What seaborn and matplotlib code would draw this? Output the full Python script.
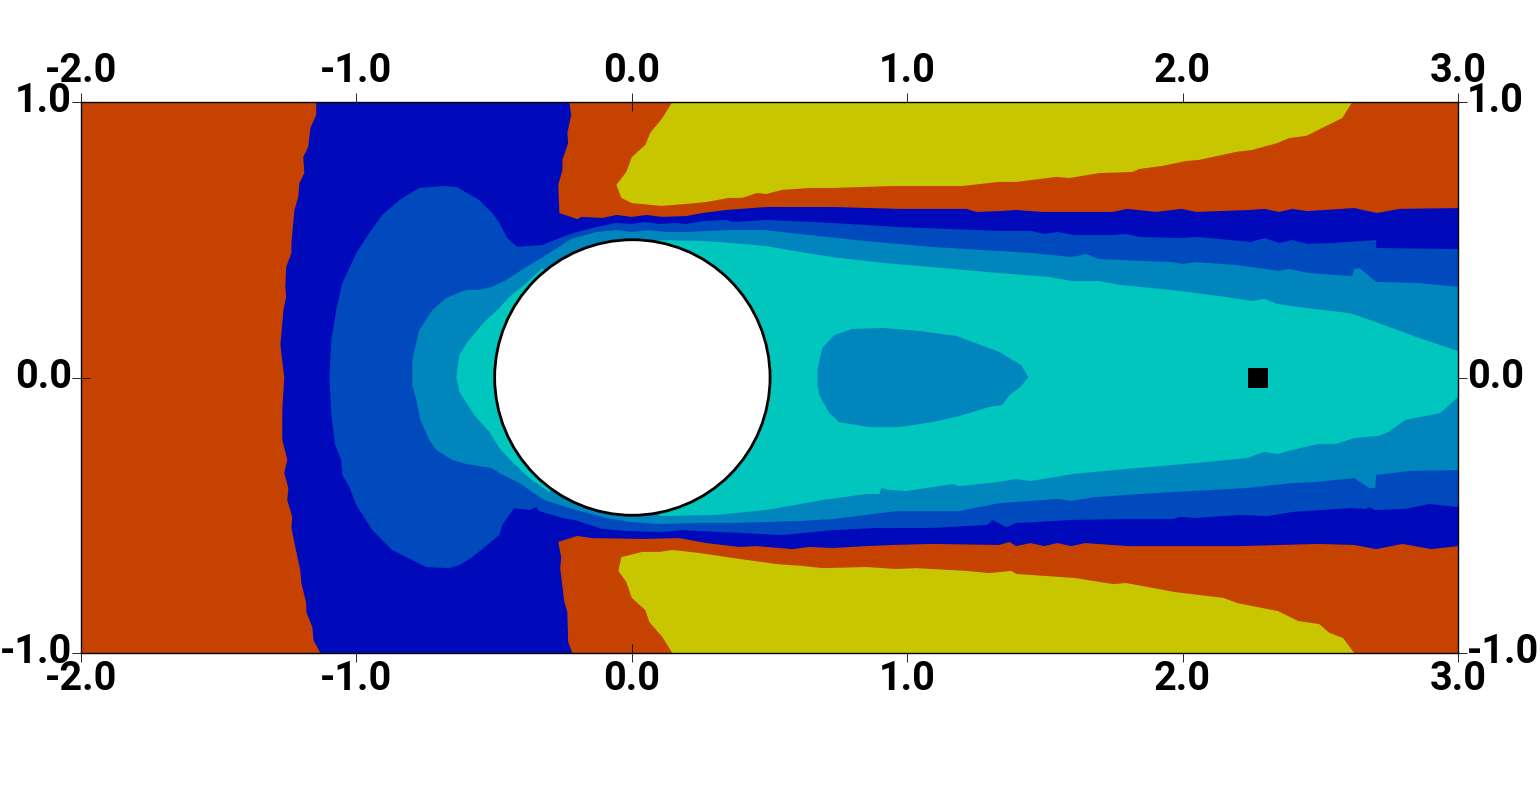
import matplotlib
matplotlib.use("Agg")
import matplotlib.pyplot as plt
import seaborn as sns
import pandas as pd
from matplotlib.patches import Circle
from matplotlib.transforms import ScaledTranslation

# contour outlines, (x, y) in plot units
dark_blue_outline = [
    (-1.146, 1.0), (-1.146, .953), (-1.167, .906), (-1.175, .837), (-1.193, .800), (-1.189, .742),
    (-1.207, .706), (-1.211, .655), (-1.225, .608), (-1.236, .488), (-1.236, .452), (-1.255, .401),
    (-1.258, .329), (-1.255, .292), (-1.265, .245), (-1.276, .118), (-1.262, 0), (-1.269, -.118),
    (-1.269, -.227), (-1.251, -.299), (-1.262, -.347), (-1.247, -.401), (-1.251, -.445), (-1.233, -.506),
    (-1.236, -.546), (-1.222, -.615), (-1.204, -.699), (-1.200, -.746), (-1.182, -.819), (-1.182, -.851),
    (-1.160, -.906), (-1.156, -.953), (-1.131, -1.0), (-.216, -1.0), (-.231, -.960), (-.234, -.851),
    (-.245, -.815), (-.260, -.692), (-.256, -.655), (-.267, -.597), (-.198, -.575), (-.143, -.583),
    (.038, -.586), (.172, -.583), (.271, -.601), (.390, -.615), (.452, -.612), (.583, -.623),
    (.645, -.615), (.728, -.619), (.851, -.612), (.946, -.608), (1.091, -.604), (1.334, -.608),
    (1.371, -.597), (1.396, -.612), (1.447, -.601), (1.498, -.612), (1.545, -.601), (1.596, -.612),
    (1.647, -.601), (1.803, -.612), (1.995, -.612), (2.209, -.612), (2.496, -.604), (2.623, -.608),
    (2.703, -.623), (2.798, -.604), (2.903, -.623), (3.0, -.612), (3.0, .615), (2.787, .612),
    (2.707, .597), (2.623, .615), (2.453, .604), (2.398, .612), (2.351, .601), (2.297, .612),
    (2.242, .608), (2.050, .601), (1.995, .612), (1.904, .601), (1.799, .612), (1.745, .601),
    (1.491, .601), (1.396, .608), (1.334, .604), (1.251, .601), (1.215, .612), (.971, .612),
    (.728, .619), (.488, .619), (.343, .608), (.256, .597), (.198, .586), (.111, .583),
    (.053, .590), (0, .583), (-.056, .590), (-.107, .579), (-.183, .583), (-.198, .575),
    (-.263, .597), (-.267, .699), (-.252, .753), (-.252, .790), (-.231, .851), (-.234, .888),
    (-.220, .953), (-.227, 1.0),
]
yellow_top_outline = [
    (.147, 1.0), (.111, .942), (.067, .888), (.049, .844), (0, .800), (-.020, .746), (-.056, .699),
    (-.038, .652), (0, .633), (.107, .623), (.198, .630), (.271, .637), (.354, .652), (.401, .652),
    (.456, .670), (.488, .666), (.546, .681), (.645, .688), (.728, .688), (.946, .695), (1.200, .695),
    (1.334, .710), (1.396, .710), (1.541, .728), (1.589, .724), (1.697, .742), (1.817, .746),
    (1.843, .757), (1.926, .768), (2.013, .786), (2.061, .790), (2.195, .819), (2.253, .826),
    (2.344, .851), (2.387, .869), (2.449, .877), (2.580, .942), (2.616, 1.0),
]
yellow_bottom_outline = [
    (.147, -1.0), (.111, -.942), (.064, -.888), (.049, -.844), (0, -.800), (-.020, -.742), (-.049, -.702),
    (-.038, -.652), (.038, -.633), (.100, -.633), (.147, -.626), (.245, -.637), (.365, -.655),
    (.525, -.677), (.619, -.684), (.692, -.692), (.851, -.688), (.960, -.695), (1.033, -.692),
    (1.215, -.702), (1.298, -.710), (1.378, -.702), (1.396, -.713), (1.610, -.728), (1.748, -.750),
    (1.795, -.746), (1.973, -.779), (2.148, -.800), (2.199, -.819), (2.347, -.848), (2.420, -.884),
    (2.496, -.895), (2.533, -.927), (2.583, -.946), (2.623, -1.0),
]
medium_blue_outline = [
    (-1.098, 0), (-1.091, .136), (-1.073, .245), (-1.051, .343), (-1.000, .452), (-.953, .525),
    (-.906, .590), (-.844, .644), (-.772, .688), (-.688, .695), (-.637, .692), (-.554, .644),
    (-.507, .597), (-.481, .561), (-.452, .506), (-.416, .474), (-.325, .481), (-.252, .510),
    (-.209, .525), (-.129, .546), (-.056, .561), (0, .557), (.045, .564), (.100, .557), (.162, .561),
    (.198, .557), (.256, .568), (.343, .572), (.365, .564), (.488, .572), (.728, .561), (.971, .546),
    (1.334, .532), (1.451, .532), (1.498, .521), (1.545, .528), (1.607, .517), (1.745, .517),
    (1.795, .521), (1.843, .510), (1.999, .506), (2.050, .510), (2.249, .492), (2.297, .506),
    (2.351, .488), (2.398, .499), (2.453, .485), (2.544, .488), (2.703, .499), (2.703, .470),
    (3.0, .466), (3.0, -.470), (2.896, -.459), (2.809, -.477), (2.696, -.481), (2.678, -.470),
    (2.667, -.477), (2.609, -.474), (2.398, -.488), (2.308, -.503), (2.209, -.499), (2.046, -.510),
    (1.995, -.506), (1.959, -.514), (1.770, -.514), (1.596, -.517), (1.458, -.525), (1.396, -.528),
    (1.360, -.543), (1.309, -.517), (1.291, -.535), (1.091, -.546), (.899, -.546), (.728, -.554),
    (.546, -.572), (.390, -.564), (.183, -.554), (.100, -.561), (-.020, -.557), (-.107, -.550),
    (-.209, -.517), (-.252, -.510), (-.336, -.485), (-.347, -.470), (-.372, -.481), (-.427, -.474),
    (-.470, -.535), (-.481, -.572), (-.579, -.652), (-.626, -.681), (-.663, -.692), (-.746, -.688),
    (-.870, -.626), (-.942, -.554), (-1.000, -.463), (-1.026, -.397), (-1.051, -.354), (-1.055, -.299),
    (-1.077, -.245), (-1.091, -.136),
]
steel_blue_outline = [
    (-.797, .020), (-.797, .064), (-.772, .172), (-.724, .245), (-.674, .289), (-.601, .318),
    (-.554, .318), (-.507, .329), (-.456, .354), (-.383, .401), (-.310, .445), (-.220, .503),
    (-.129, .528), (-.056, .535), (0, .528), (.064, .535), (.125, .528), (.198, .528), (.343, .535),
    (.488, .535), (.608, .521), (.851, .495), (1.091, .474), (1.334, .459), (1.454, .452),
    (1.596, .437), (1.650, .448), (1.697, .430), (1.854, .423), (1.963, .419), (2.0, .412),
    (2.050, .419), (2.195, .408), (2.351, .387), (2.387, .394), (2.460, .379), (2.616, .368),
    (2.623, .394), (2.642, .397), (2.703, .347), (2.849, .343), (3.0, .329), (3.0, -.336),
    (2.823, -.339), (2.703, -.354), (2.700, -.401), (2.678, -.401), (2.623, -.365), (2.485, -.379),
    (2.398, -.383), (2.235, -.401), (1.959, -.416), (1.846, -.423), (1.683, -.434), (1.596, -.448),
    (1.545, -.441), (1.334, -.456), (1.189, -.485), (.960, -.485), (.728, -.514), (.608, -.521),
    (.365, -.528), (.245, -.528), (.100, -.532), (0, -.525), (-.093, -.510), (-.202, -.481),
    (-.318, -.445), (-.361, -.416), (-.408, -.383), (-.481, -.347), (-.507, -.329), (-.601, -.314),
    (-.652, -.299), (-.710, -.263), (-.735, -.227), (-.768, -.154), (-.782, -.082), (-.797, -.027),
]
teal_outline = [
    (-.637, 0), (-.626, .082), (-.597, .129), (-.536, .201), (-.481, .252), (-.445, .292), (-.383, .343),
    (-.325, .397), (-.2, .3), (.1, .3), (.100, .499), (.271, .495), (.365, .488), (.488, .477),
    (.608, .456), (.728, .437), (.910, .416), (1.091, .401), (1.334, .379), (1.516, .365), (1.600, .350),
    (1.697, .350), (1.770, .336), (1.926, .321), (2.024, .310), (2.159, .292), (2.249, .278),
    (2.297, .285), (2.344, .267), (2.449, .252), (2.606, .234), (2.703, .201), (2.849, .147),
    (3.0, .096), (3.0, -.071), (2.936, -.129), (2.809, -.154), (2.747, -.198), (2.711, -.212),
    (2.623, -.220), (2.558, -.241), (2.496, -.241), (2.398, -.263), (2.347, -.278), (2.297, -.270),
    (2.235, -.292), (2.086, -.307), (1.959, -.318), (1.795, -.332), (1.603, -.350), (1.447, -.376),
    (1.396, -.368), (1.334, -.379), (1.189, -.394), (1.164, -.387), (.997, -.412), (.935, -.408),
    (.906, -.401), (.899, -.423), (.851, -.423), (.692, -.445), (.488, -.481), (.416, -.488),
    (.307, -.499), (.100, -.503), (.1, -.3), (-.2, -.3), (-.300, -.416), (-.372, -.365), (-.434, -.307),
    (-.481, -.256), (-.517, -.198), (-.572, -.136), (-.626, -.053),
]
island_outline = [
    (.674, .027), (.692, .107), (.735, .154), (.801, .176), (.910, .180), (1.044, .169), (1.178, .151),
    (1.334, .093), (1.382, .064), (1.414, .045), (1.440, 0), (1.411, -.034), (1.371, -.064),
    (1.345, -.100), (1.298, -.107), (1.189, -.140), (1.091, -.162), (.971, -.180), (.862, -.180),
    (.753, -.162), (.717, -.129), (.681, -.064), (.674, -.027),
]

# obstacle and probe
cylinder_center = (0.002, 0.0)
cylinder_radius = 0.5
probe_x = [2.273]
probe_y = [0.0]

x_ticks = [-2.0, -1.0, 0.0, 1.0, 2.0, 3.0]
y_ticks = [-1.0, 0.0, 1.0]
x_tick_labels = ["-2.0", "-1.0", "0.0", "1.0", "2.0", "3.0"]
y_tick_labels = ["-1.0", "0.0", "1.0"]

ORANGE = "#C64200"
YELLOW = "#C8C600"
DARK_BLUE = "#000ABA"
MEDIUM_BLUE = "#004ABD"
STEEL_BLUE = "#0085BD"
TEAL = "#00C6BE"


def fill_outline(ax, outline, color):
    df = pd.DataFrame(outline, columns=["x", "y"])
    ax.fill(df["x"], df["y"], color=color, linewidth=0, zorder=2)


def main():
    sns.set_theme(style="white")
    plt.rcParams["font.family"] = ["Roboto", "DejaVu Sans"]

    fig = plt.figure(figsize=(15.4, 7.95), dpi=100)
    ax = fig.add_axes([81 / 1540, (795 - 653) / 795, 1377 / 1540, 551 / 795])
    ax.set_facecolor(ORANGE)

    # painted from the outer band to the inner one
    fill_outline(ax, yellow_top_outline, YELLOW)
    fill_outline(ax, yellow_bottom_outline, YELLOW)
    fill_outline(ax, dark_blue_outline, DARK_BLUE)
    fill_outline(ax, medium_blue_outline, MEDIUM_BLUE)
    fill_outline(ax, steel_blue_outline, STEEL_BLUE)
    fill_outline(ax, teal_outline, TEAL)
    fill_outline(ax, island_outline, STEEL_BLUE)

    ax.add_patch(Circle(cylinder_center, cylinder_radius, facecolor="white", edgecolor="black", linewidth=2.0, zorder=3))
    sns.scatterplot(x=probe_x, y=probe_y, marker="s", s=190, color="black", linewidth=0, ax=ax, zorder=4)

    ax.set_xlim(-2, 3)
    ax.set_ylim(-1, 1)
    ax.set_xticks(x_ticks, x_tick_labels)
    ax.set_yticks(y_ticks, y_tick_labels)
    ax.tick_params(axis="both", which="major", direction="inout", length=13, width=0.6, color="black",
                   labelsize=28.5, labelcolor="black", top=True, bottom=True, left=True, right=True,
                   labeltop=True, labelbottom=True, labelleft=True, labelright=True, pad=0)
    for label in ax.get_xticklabels() + ax.get_yticklabels():
        label.set_fontweight("bold")

    # the labels sit a little off the tick centres in the reference
    up_y = ScaledTranslation(0, 5 / 100, fig.dpi_scale_trans)
    up_x = ScaledTranslation(0, 2.5 / 100, fig.dpi_scale_trans)
    for tick in ax.yaxis.get_major_ticks():
        tick.label1.set_transform(tick.label1.get_transform() + up_y)
        tick.label2.set_transform(tick.label2.get_transform() + up_y)
    for tick in ax.xaxis.get_major_ticks():
        tick.label1.set_transform(tick.label1.get_transform() + up_x)
        tick.label2.set_transform(tick.label2.get_transform() + up_x)
    for spine in ax.spines.values():
        spine.set_visible(True)
        spine.set_color("black")
        spine.set_linewidth(1.0)
        spine.set_zorder(5)

    fig.savefig("out.png", dpi=100)
    plt.close(fig)


if __name__ == "__main__":
    main()
